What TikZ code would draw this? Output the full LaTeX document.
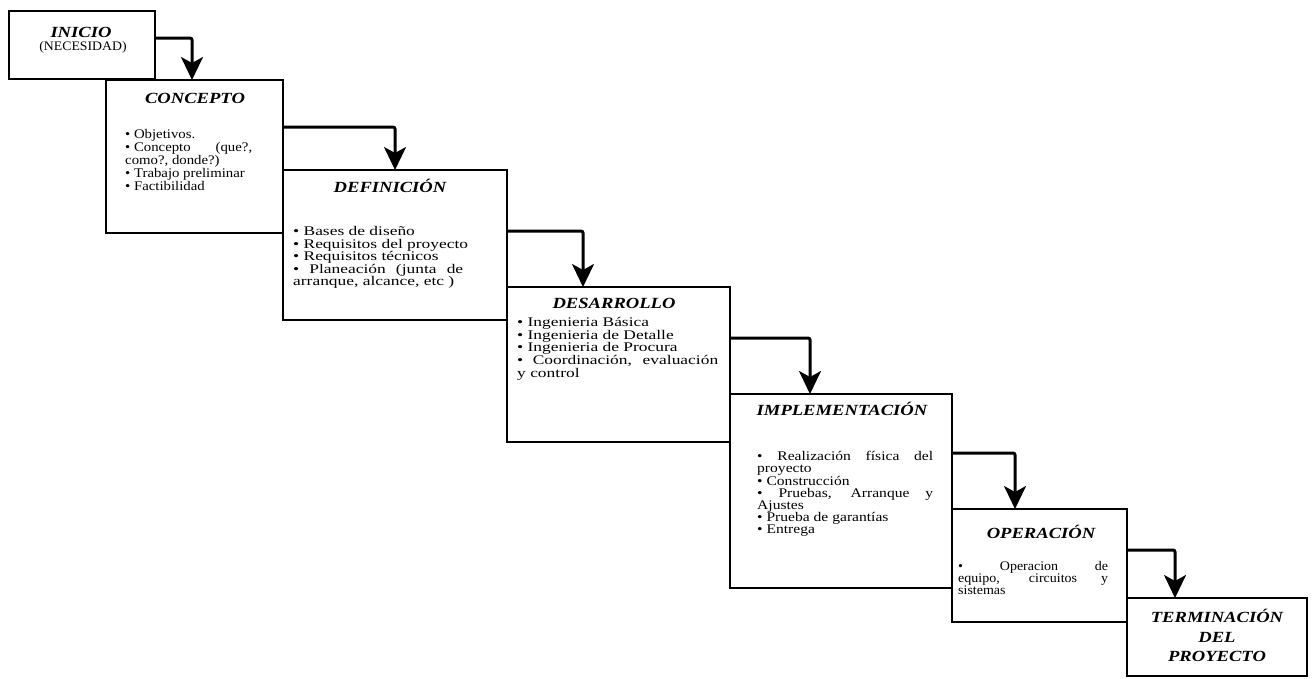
\documentclass[tikz,border=0pt]{standalone}
\usepackage{fontspec}
\setmainfont{Liberation Serif}
\newfontfamily\bodyn[FakeStretch=1.06]{Liberation Serif}
\newfontfamily\bodyc[FakeStretch=1.12]{Liberation Serif}
\newfontfamily\bodym[FakeStretch=1.18]{Liberation Serif}
\newfontfamily\bodyw[FakeStretch=1.32]{Liberation Serif}
\newfontfamily\titlef[FakeStretch=1.2]{Liberation Serif}
\usetikzlibrary{arrows.meta}
\newcommand\jline[2]{\makebox[#1][s]{#2}}
\begin{document}
\begin{tikzpicture}[x=1pt,y=-1pt,
 stagebox/.style={draw, line width=2.4pt, anchor=north west, inner sep=0pt, outer sep=0pt},
 ttl/.style={font=\titlef\bfseries\itshape\fontsize{15.5}{19.5}\selectfont, inner sep=0pt, anchor=base},
 bodytxt/.style={inner sep=0pt, anchor=north west, align=left},
 conn/.style={line width=3pt, rounded corners=2pt, -{Stealth[length=23pt,width=22pt,inset=6pt]}}]
\useasboundingbox (0,0) rectangle (1312,678);

% boxes
\node[stagebox, minimum width=146pt, minimum height=68pt] (inicio) at (9,11) {};
\node[stagebox, minimum width=177pt, minimum height=153pt] (concepto) at (106,80) {};
\node[stagebox, minimum width=224pt, minimum height=150pt] (definicion) at (283,170) {};
\node[stagebox, minimum width=223pt, minimum height=155pt] (desarrollo) at (507,287) {};
\node[stagebox, minimum width=222pt, minimum height=194pt] (implementacion) at (730,394) {};
\node[stagebox, minimum width=175pt, minimum height=113pt] (operacion) at (952,509) {};
\node[stagebox, minimum width=180pt, minimum height=78pt] (terminacion) at (1127,598) {};

% titles
\node[ttl] (t-inicio) at (81,37) {INICIO};
\node[font=\bodyn\fontsize{13}{14}\selectfont, inner sep=0pt, anchor=base] (t-necesidad) at (83,50.5) {(NECESIDAD)};
\node[ttl] (t-concepto) at (195,103.5) {CONCEPTO};
\node[ttl] (t-definicion) at (390,192.5) {DEFINICIÓN};
\node[ttl] (t-desarrollo) at (614,308.5) {DESARROLLO};
\node[ttl] (t-implementacion) at (842,415.5) {IMPLEMENTACIÓN};
\node[ttl] (t-operacion) at (1041,538.5) {OPERACIÓN};
\node[ttl, align=center, anchor=north] (t-terminacion) at (1217,609) {TERMINACIÓN\\DEL\\PROYECTO};

% bodies
\node[bodytxt, font=\bodyc\fontsize{13.2}{12.9}\selectfont] (b-concepto) at (125,129.5) {• Objetivos.\\
\jline{127pt}{• Concepto\hfill (que?,}\\
como?,  donde?)\\
• Trabajo preliminar\\
• Factibilidad};
\node[bodytxt, font=\bodyw\fontsize{13.2}{12.4}\selectfont] (b-definicion) at (293,226.5) {• Bases de diseño\\
• Requisitos del proyecto\\
• Requisitos técnicos\\
\jline{170pt}{• Planeación (junta de}\\
arranque, alcance, etc )};
\node[bodytxt, font=\bodyw\fontsize{13.2}{12.75}\selectfont] (b-desarrollo) at (517,317) {• Ingenieria  Básica\\
• Ingenieria  de Detalle\\
• Ingenieria de Procura\\
\jline{201pt}{• Coordinación, evaluación}\\
y  control};
\node[bodytxt, font=\bodym\fontsize{13.2}{12}\selectfont] (b-implementacion) at (757,450.5) {\jline{176pt}{• Realización física del}\\
proyecto\\
• Construcción\\
\jline{176pt}{• Pruebas, Arranque y}\\
Ajustes\\
• Prueba de garantías\\
• Entrega};
\node[bodytxt, font=\bodyn\fontsize{13.2}{12}\selectfont] (b-operacion) at (958,561.5) {\jline{150pt}{• Operacion de}\\
\jline{150pt}{equipo, circuitos y}\\
sistemas};

% connectors
\draw[conn] ([yshift=-27pt]inicio.north east) -| ([xshift=86pt]concepto.north west);
\draw[conn] ([yshift=-47pt]concepto.north east) -| ([xshift=112pt]definicion.north west);
\draw[conn] ([yshift=-61pt]definicion.north east) -| ([xshift=76pt]desarrollo.north west);
\draw[conn] ([yshift=-51pt]desarrollo.north east) -| ([xshift=80pt]implementacion.north west);
\draw[conn] ([yshift=-59pt]implementacion.north east) -| ([xshift=63pt]operacion.north west);
\draw[conn] ([yshift=-41pt]operacion.north east) -| ([xshift=48pt]terminacion.north west);
\end{tikzpicture}
\end{document}
